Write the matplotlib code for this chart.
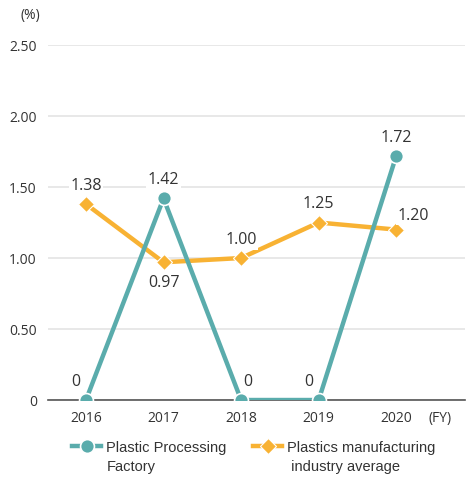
import matplotlib
matplotlib.use("Agg")
import matplotlib.pyplot as plt

# ---- data ----
years = [2016, 2017, 2018, 2019, 2020]
factory = [0, 1.42, 0, 0, 1.72]
industry = [1.38, 0.97, 1.00, 1.25, 1.20]

factory_labels = ["0", "1.42", "0", "0", "1.72"]
industry_labels = ["1.38", "0.97", "1.00", "1.25", "1.20"]

# legend names, split over two lines
factory_name = ["Plastic Processing", "Factory"]
industry_name = ["Plastics manufacturing", " industry average"]

# label offsets in points (x, y)
factory_offsets = [(-7, 13), (0, 13), (5, 13), (-7, 13), (0, 13)]
industry_offsets = [(0, 13), (0, -15), (0, 13), (0, 13), (12, 10)]

teal = "#5aacac"
orange = "#f8b233"
text_color = "#333333"

plt.rcParams["font.family"] = ["Open Sans", "DejaVu Sans"]

fig = plt.figure(figsize=(4.70, 5.04), dpi=100)
ax = fig.add_axes([0.102, 0.2063, 0.888, 0.7044])

ax.plot(years, industry, color=orange, linewidth=3.2, marker="D", markersize=8,
        markeredgecolor="white", markeredgewidth=0.8, zorder=3,
        label=industry_name[0])
ax.plot(years, factory, color=teal, linewidth=3.2, marker="o", markersize=10,
        markeredgecolor="white", markeredgewidth=1.2, zorder=4,
        label=factory_name[0])

for x, y, s, off in zip(years, factory, factory_labels, factory_offsets):
    ax.annotate(s, (x, y), xytext=off, textcoords="offset points", ha="center",
                va="center", fontsize=11.5, color=text_color, zorder=5,
                bbox=dict(boxstyle="square,pad=0.1", fc="white", ec="none"))
for x, y, s, off in zip(years, industry, industry_labels, industry_offsets):
    ax.annotate(s, (x, y), xytext=off, textcoords="offset points", ha="center",
                va="center", fontsize=11.5, color=text_color, zorder=5,
                bbox=dict(boxstyle="square,pad=0.1", fc="white", ec="none"))

ax.set_xlim(2015.51, 2020.89)
ax.set_ylim(0, 2.5)
ax.set_xticks(years)
ax.set_yticks([0, 0.5, 1.0, 1.5, 2.0, 2.5])
ax.set_yticklabels(["0", "0.50", "1.00", "1.50", "2.00", "2.50"])
ax.tick_params(axis="both", length=0, labelsize=10, colors=text_color)
ax.tick_params(axis="y", pad=8)
ax.tick_params(axis="x", pad=8)

ax.grid(True, axis="y", color="#e4e4e4", linewidth=1.2)
ax.set_axisbelow(True)
for side in ["top", "right", "left"]:
    ax.spines[side].set_visible(False)
ax.spines["bottom"].set_color("#555555")
ax.spines["bottom"].set_linewidth(1.2)
ax.spines["bottom"].set_zorder(2)

fig.text(0.064, 0.970, "(%)", ha="center", va="center", fontsize=10, color=text_color)
fig.text(0.936, 0.170, "(FY)", ha="center", va="center", fontsize=10, color=text_color)

# legend: first line of each name next to the handle, second line below it
handles, labels = ax.get_legend_handles_labels()
legend_font = {"family": "Liberation Sans", "size": 10.5}
leg = fig.legend(handles[::-1], labels[::-1], loc="center", ncol=2,
                 bbox_to_anchor=(0.54, 0.112), frameon=False, handlelength=2.0,
                 columnspacing=1.8, handletextpad=0.35, prop=legend_font)
for t in leg.get_texts():
    t.set_color(text_color)

fig.canvas.draw()
W, H = fig.bbox.width, fig.bbox.height
for t, second in zip(leg.get_texts(), [factory_name[1], industry_name[1]]):
    bb = t.get_window_extent()
    fig.text(bb.x0 / W, (bb.y0 - 19) / H, second, ha="left", va="bottom",
             color=text_color, fontdict=legend_font)

fig.savefig("out.png", dpi=100)
